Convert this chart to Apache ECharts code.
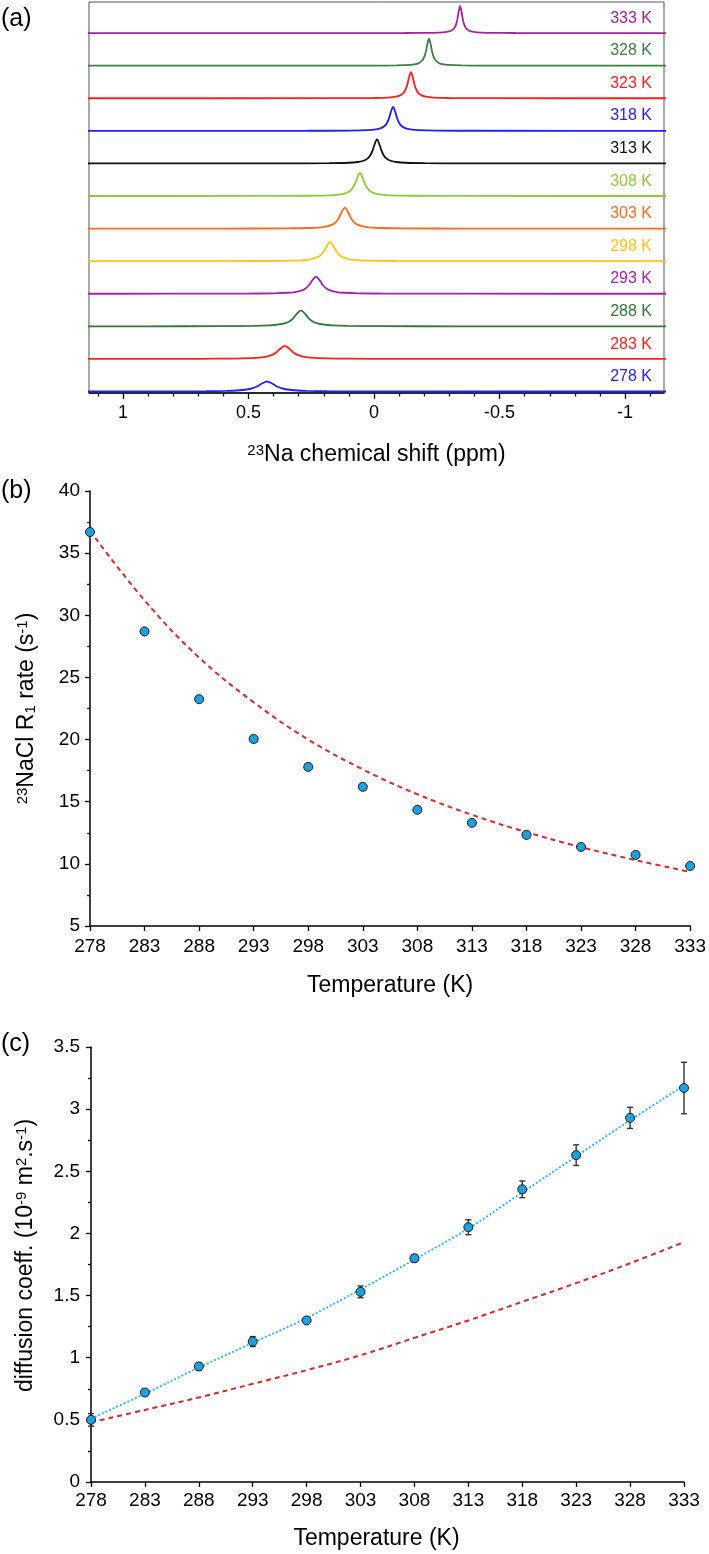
<!DOCTYPE html>
<html><head><meta charset="utf-8">
<script src="https://cdn.jsdelivr.net/npm/echarts@6.0.0/dist/echarts.min.js"></script>
<style>html,body{margin:0;padding:0;background:#fff}#chart{width:709px;height:1554px}</style>
</head><body><div id="chart"></div>
<script>
// ---------- DATA ----------
// (a) 23Na spectra, top to bottom; points are [chemical shift (ppm), intensity]
const spectrumLabels = ['333 K','328 K','323 K','318 K','313 K','308 K','303 K','298 K','293 K','288 K','283 K','278 K'];
const spec333 = [[-1.3,0],[-0.563,0.07],[-0.453,0.27],[-0.409,0.73],[-0.387,1.59],[-0.376,2.7],[-0.365,5.4],[-0.3595,8.31],[-0.354,13.5],[-0.3485,21.6],[-0.343,27],[-0.3375,21.6],[-0.332,13.5],[-0.3265,8.31],[-0.321,5.4],[-0.310,2.7],[-0.299,1.59],[-0.277,0.73],[-0.233,0.27],[-0.123,0.07],[1.3,0]];
const spec328 = [[-1.3,0],[-0.479,0.07],[-0.349,0.27],[-0.297,0.73],[-0.271,1.59],[-0.258,2.7],[-0.245,5.4],[-0.2385,8.31],[-0.232,13.5],[-0.2255,21.6],[-0.219,27],[-0.2125,21.6],[-0.206,13.5],[-0.1995,8.31],[-0.193,5.4],[-0.180,2.7],[-0.167,1.59],[-0.141,0.73],[-0.089,0.27],[0.041,0.07],[1.3,0]];
const spec323 = [[-1.3,0],[-0.447,0.065],[-0.297,0.26],[-0.237,0.70],[-0.207,1.53],[-0.192,2.6],[-0.177,5.2],[-0.1695,8.0],[-0.162,13],[-0.1545,20.8],[-0.147,26],[-0.1395,20.8],[-0.132,13],[-0.1245,8.0],[-0.117,5.2],[-0.102,2.6],[-0.087,1.53],[-0.057,0.70],[0.003,0.26],[0.153,0.065],[1.3,0]];
const spec318 = [[-1.3,0],[-0.416,0.06],[-0.246,0.24],[-0.178,0.65],[-0.144,1.41],[-0.127,2.4],[-0.110,4.8],[-0.1015,7.38],[-0.093,12],[-0.0845,19.2],[-0.076,24],[-0.0675,19.2],[-0.059,12],[-0.0505,7.38],[-0.042,4.8],[-0.025,2.4],[-0.008,1.41],[0.026,0.65],[0.094,0.24],[0.264,0.06],[1.3,0]];
const spec313 = [[-1.3,0],[-0.392,0.06],[-0.202,0.24],[-0.126,0.65],[-0.088,1.41],[-0.069,2.4],[-0.050,4.8],[-0.0405,7.38],[-0.031,12],[-0.0215,19.2],[-0.012,24],[-0.0025,19.2],[0.007,12],[0.0165,7.38],[0.026,4.8],[0.045,2.4],[0.064,1.41],[0.102,0.65],[0.178,0.24],[0.368,0.06],[1.3,0]];
const spec308 = [[-1.3,0],[-0.364,0.058],[-0.154,0.23],[-0.070,0.62],[-0.028,1.35],[-0.007,2.3],[0.014,4.6],[0.0245,7.08],[0.035,11.5],[0.0455,18.4],[0.056,23],[0.0665,18.4],[0.077,11.5],[0.0875,7.08],[0.098,4.6],[0.119,2.3],[0.140,1.35],[0.182,0.62],[0.266,0.23],[0.476,0.058],[1.3,0]];
const spec303 = [[-1.3,0],[-0.364,0.053],[-0.124,0.21],[-0.028,0.57],[0.020,1.23],[0.044,2.1],[0.068,4.2],[0.080,6.46],[0.092,10.5],[0.104,16.8],[0.116,21],[0.128,16.8],[0.140,10.5],[0.152,6.46],[0.164,4.2],[0.188,2.1],[0.212,1.23],[0.260,0.57],[0.356,0.21],[0.596,0.053],[1.3,0]];
const spec298 = [[-1.3,0],[-0.345,0.048],[-0.085,0.19],[0.019,0.51],[0.071,1.12],[0.097,1.9],[0.123,3.8],[0.136,5.85],[0.149,9.5],[0.162,15.2],[0.175,19],[0.188,15.2],[0.201,9.5],[0.214,5.85],[0.227,3.8],[0.253,1.9],[0.279,1.12],[0.331,0.51],[0.435,0.19],[0.695,0.048],[1.3,0]];
const spec293 = [[-1.3,0],[-0.329,0.043],[-0.049,0.17],[0.063,0.46],[0.119,1.0],[0.147,1.7],[0.175,3.4],[0.189,5.23],[0.203,8.5],[0.217,13.6],[0.231,17],[0.245,13.6],[0.259,8.5],[0.273,5.23],[0.287,3.4],[0.315,1.7],[0.343,1.0],[0.399,0.46],[0.511,0.17],[0.791,0.043],[1.3,0]];
const spec288 = [[-1.3,0],[-0.329,0.04],[-0.019,0.16],[0.105,0.43],[0.167,0.94],[0.198,1.6],[0.229,3.2],[0.2445,4.92],[0.260,8],[0.2755,12.8],[0.291,16],[0.3065,12.8],[0.322,8],[0.3375,4.92],[0.353,3.2],[0.384,1.6],[0.415,0.94],[0.477,0.43],[0.601,0.16],[0.911,0.04],[1.3,0]];
const spec283 = [[-1.3,0],[-0.325,0.033],[0.015,0.13],[0.151,0.35],[0.219,0.76],[0.253,1.3],[0.287,2.6],[0.304,4.0],[0.321,6.5],[0.338,10.4],[0.355,13],[0.372,10.4],[0.389,6.5],[0.406,4.0],[0.423,2.6],[0.457,1.3],[0.491,0.76],[0.559,0.35],[0.695,0.13],[1.035,0.033],[1.3,0]];
const spec278 = [[-1.3,0],[-0.374,0.025],[0.026,0.1],[0.186,0.27],[0.266,0.59],[0.306,1.0],[0.346,2.0],[0.366,3.08],[0.386,5],[0.406,8],[0.426,10],[0.446,8],[0.466,5],[0.486,3.08],[0.506,2.0],[0.546,1.0],[0.586,0.59],[0.666,0.27],[0.826,0.1],[1.226,0.025],[1.3,0]];
const spectra = [spec333, spec328, spec323, spec318, spec313, spec308, spec303, spec298, spec293, spec288, spec283, spec278];
const shiftMajorTicks = [1, 0.5, 0, -0.5, -1];
const shiftMinorTicks = [1.1, 0.9, 0.8, 0.7, 0.6, 0.4, 0.3, 0.2, 0.1, -0.1, -0.2, -0.3, -0.4, -0.6, -0.7, -0.8, -0.9, -1.1];
const shiftMin = -1.155, shiftMax = 1.135;

// (b) and (c)
const temperatures = [278, 283, 288, 293, 298, 303, 308, 313, 318, 323, 328, 333];
const r1Measured = [36.7, 28.7, 23.25, 20.05, 17.8, 16.2, 14.35, 13.3, 12.33, 11.36, 10.72, 9.83];
const r1Model    = [36.8, 31.2, 26.6, 23.0, 20.0, 17.6, 15.6, 13.95, 12.55, 11.35, 10.3, 9.35];
const diffMeasured = [0.50, 0.72, 0.93, 1.13, 1.30, 1.53, 1.80, 2.05, 2.355, 2.63, 2.93, 3.17];
const diffError    = [0.05, 0.02, 0.03, 0.04, 0.02, 0.047, 0.03, 0.06, 0.067, 0.083, 0.085, 0.207];
const diffFit      = [0.51, 0.71, 0.92, 1.12, 1.32, 1.55, 1.79, 2.04, 2.33, 2.62, 2.91, 3.19];
const diffModel    = [0.48, 0.58, 0.68, 0.79, 0.90, 1.02, 1.16, 1.30, 1.45, 1.60, 1.76, 1.93];

// ---------- STYLE / LAYOUT ----------
const FONT = 'Arial, "Liberation Sans", Helvetica, sans-serif';
const spectrumColors = ['#a3239c','#3a8042','#ff1f1f','#1f1fff','#111111','#92c83a','#ff6a1c','#ffc21a','#a426a4','#2f7a3a','#ff1f1f','#1f1fff'];
const markerColor = '#1ba1e2';
const redColor = '#d42a2a';

const frameTop = 2, frameBottom = 393, frameLeft = 89, frameRight = 664;
const stripH = (frameBottom - frameTop) / spectra.length;

const grid = [], xAxis = [], yAxis = [], series = [], graphic = [];

spectra.forEach((s, i) => {
  grid.push({left: frameLeft, width: frameRight - frameLeft, top: frameTop + i * stripH, height: stripH});
  xAxis.push({gridIndex: i, type: 'value', inverse: true, min: shiftMin, max: shiftMax, show: false});
  yAxis.push({gridIndex: i, type: 'value', min: -1.5, max: stripH - 1.5, show: false});
  series.push({type: 'line', xAxisIndex: i, yAxisIndex: i, data: s, showSymbol: false, symbol: 'none',
    smooth: 0.3, lineStyle: {color: spectrumColors[i], width: 1.8}, silent: true});
  graphic.push({type: 'text', x: 652, y: frameTop + (i + 0.5) * stripH,
    style: {text: spectrumLabels[i], fill: spectrumColors[i], font: '16px ' + FONT, align: 'right', verticalAlign: 'middle'}});
});

const axisBlack = {lineStyle: {color: '#000', width: 1.5}};
const tickStyle = {color: '#000', width: 1.3};
const nameRich = {
  sup: {fontSize: 15, verticalAlign: 'top', fontFamily: FONT, color: '#000'},
  sub: {fontSize: 15, verticalAlign: 'bottom', fontFamily: FONT, color: '#000'}
};

// (a) frame grid with bottom axis
const gA = spectra.length;
grid.push({left: frameLeft, width: frameRight - frameLeft, top: frameTop, height: frameBottom - frameTop,
  show: true, borderColor: '#555', borderWidth: 1, backgroundColor: 'transparent'});
xAxis.push({gridIndex: gA, type: 'value', inverse: true, min: shiftMin, max: shiftMax, position: 'bottom',
  axisLine: axisBlack, splitLine: {show: false},
  axisTick: {customValues: shiftMajorTicks, length: 6, lineStyle: tickStyle},
  axisLabel: {customValues: shiftMajorTicks, fontSize: 18, color: '#000', margin: 11, formatter: v => String(v)},
  name: '{sup|23}Na chemical shift (ppm)', nameLocation: 'middle', nameGap: 50,
  nameTextStyle: {fontSize: 23, color: '#000', fontFamily: FONT, rich: nameRich}});
xAxis.push({gridIndex: gA, type: 'value', inverse: true, min: shiftMin, max: shiftMax, position: 'bottom',
  axisLine: {show: false}, splitLine: {show: false}, axisLabel: {show: false},
  axisTick: {customValues: shiftMinorTicks, length: 3.5, lineStyle: tickStyle}});
yAxis.push({gridIndex: gA, type: 'value', min: 0, max: 1, show: false});

// (b)
const gB = gA + 1;
grid.push({left: 90, width: 602, top: 491, height: 435});
const xB = xAxis.length, yB = yAxis.length;
xAxis.push({gridIndex: gB, type: 'value', min: 278, max: 333, axisLine: axisBlack, splitLine: {show: false},
  axisTick: {customValues: temperatures, length: 5, lineStyle: tickStyle},
  axisLabel: {customValues: temperatures, fontSize: 19, color: '#000', margin: 11},
  name: 'Temperature (K)', nameLocation: 'middle', nameGap: 48,
  nameTextStyle: {fontSize: 23, color: '#000', fontFamily: FONT}});
yAxis.push({gridIndex: gB, type: 'value', min: 5, max: 40, interval: 5, axisLine: {show: true, lineStyle: {color: '#000', width: 1.5}},
  splitLine: {show: false}, axisTick: {show: true, length: 5, lineStyle: tickStyle},
  minorTick: {show: true, splitNumber: 2, length: 3, lineStyle: tickStyle}, minorSplitLine: {show: false},
  axisLabel: {fontSize: 19, color: '#000', margin: 10},
  name: '{sup|23}NaCl R{sub|1} rate (s{sup|-1})', nameLocation: 'middle', nameGap: 52,
  nameTextStyle: {fontSize: 23, color: '#000', fontFamily: FONT, rich: nameRich}});
series.push({type: 'line', xAxisIndex: xB, yAxisIndex: yB, data: temperatures.map((t, i) => [t, r1Model[i]]),
  showSymbol: false, symbol: 'none', smooth: 0.4, lineStyle: {color: redColor, width: 2, type: [5, 4]}, z: 2});
series.push({type: 'scatter', xAxisIndex: xB, yAxisIndex: yB, data: temperatures.map((t, i) => [t, r1Measured[i]]),
  symbolSize: 9, itemStyle: {color: markerColor, borderColor: '#1a1a1a', borderWidth: 1, opacity: 1}, z: 5});

// (c)
const gC = gB + 1;
grid.push({left: 91, width: 593, top: 1047, height: 435});
const xC = xAxis.length, yC = yAxis.length;
xAxis.push({gridIndex: gC, type: 'value', min: 278, max: 333, axisLine: axisBlack, splitLine: {show: false},
  axisTick: {customValues: temperatures, length: 5, lineStyle: tickStyle},
  axisLabel: {customValues: temperatures, fontSize: 19, color: '#000', margin: 9},
  name: 'Temperature (K)', nameLocation: 'middle', nameGap: 45,
  nameTextStyle: {fontSize: 23, color: '#000', fontFamily: FONT, padding: [0, 22, 0, 0]}});
yAxis.push({gridIndex: gC, type: 'value', min: 0, max: 3.5, interval: 0.5, axisLine: {show: true, lineStyle: {color: '#000', width: 1.5}},
  splitLine: {show: false}, axisTick: {show: true, length: 5, lineStyle: tickStyle},
  minorTick: {show: true, splitNumber: 2, length: 3, lineStyle: tickStyle}, minorSplitLine: {show: false},
  axisLabel: {fontSize: 19, color: '#000', margin: 11},
  name: 'diffusion coeff. (10{sup|-9} m{sup|2}.s{sup|-1})', nameLocation: 'middle', nameGap: 54,
  nameTextStyle: {fontSize: 23, color: '#000', fontFamily: FONT, rich: nameRich, padding: [0, 0, 0, 18]}});
series.push({type: 'line', xAxisIndex: xC, yAxisIndex: yC, data: temperatures.map((t, i) => [t, diffModel[i]]),
  showSymbol: false, symbol: 'none', smooth: 0.4, lineStyle: {color: redColor, width: 2, type: [5, 4]}, z: 2});
series.push({type: 'line', xAxisIndex: xC, yAxisIndex: yC, data: temperatures.map((t, i) => [t, diffFit[i]]),
  showSymbol: false, symbol: 'none', smooth: 0.4, lineStyle: {color: '#1eb4f2', width: 1.8, type: [2, 2]}, z: 2});
series.push({type: 'custom', xAxisIndex: xC, yAxisIndex: yC,
  data: temperatures.map((t, i) => [t, diffMeasured[i], diffError[i]]),
  encode: {x: 0, y: 1}, z: 3,
  renderItem: (params, api) => {
    const x = api.value(0), y = api.value(1), e = api.value(2);
    const hi = api.coord([x, y + e]), lo = api.coord([x, y - e]);
    const cap = 3;
    const st = {stroke: '#333', lineWidth: 1.4};
    return {type: 'group', children: [
      {type: 'line', shape: {x1: hi[0], y1: hi[1], x2: lo[0], y2: lo[1]}, style: st},
      {type: 'line', shape: {x1: hi[0] - cap, y1: hi[1], x2: hi[0] + cap, y2: hi[1]}, style: st},
      {type: 'line', shape: {x1: lo[0] - cap, y1: lo[1], x2: lo[0] + cap, y2: lo[1]}, style: st}
    ]};
  }});
series.push({type: 'scatter', xAxisIndex: xC, yAxisIndex: yC, data: temperatures.map((t, i) => [t, diffMeasured[i]]),
  symbolSize: 9, itemStyle: {color: markerColor, borderColor: '#1a1a1a', borderWidth: 1, opacity: 1}, z: 5});

// panel letters
graphic.push({type: 'text', x: 1, y: 19, style: {text: '(a)', font: '25px ' + FONT, fill: '#000', verticalAlign: 'middle'}});
graphic.push({type: 'text', x: 1, y: 491, style: {text: '(b)', font: '25px ' + FONT, fill: '#000', verticalAlign: 'middle'}});
graphic.push({type: 'text', x: 1, y: 1044, style: {text: '(c)', font: '25px ' + FONT, fill: '#000', verticalAlign: 'middle'}});

const chart = echarts.init(document.getElementById('chart'), null, {renderer: 'canvas'});
chart.setOption({
  animation: false,
  backgroundColor: '#fff',
  textStyle: {fontFamily: FONT},
  grid, xAxis, yAxis, series, graphic
});
</script></body></html>
